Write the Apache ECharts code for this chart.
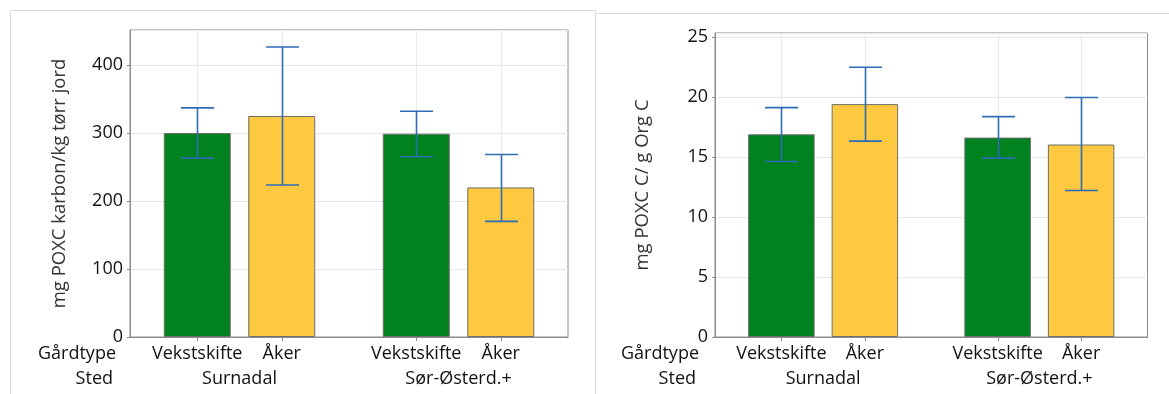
<!DOCTYPE html>
<html>
<head>
<meta charset="utf-8">
<script src="https://cdn.jsdelivr.net/npm/echarts@6/dist/echarts.min.js"></script>
<style>
html,body{margin:0;padding:0;background:#fff;}
#c{width:1169px;height:394px;}
</style>
</head>
<body>
<div id="c"></div>
<script>
// ---- data ----
const sted = ['Surnadal', 'Sør-Østerd.+'];
const gardtype = ['Vekstskifte', 'Åker'];
// left chart: mg POXC karbon / kg tørr jord
const poxcVekst = [300, 299];
const poxcVekstLow = [263, 265];
const poxcVekstHigh = [337, 332];
const poxcAker = [325, 220];
const poxcAkerLow = [223.5, 170];
const poxcAkerHigh = [426.5, 268.5];
// right chart: mg POXC C / g Org C
const orgVekst = [16.9, 16.63];
const orgVekstLow = [14.63, 14.92];
const orgVekstHigh = [19.13, 18.38];
const orgAker = [19.42, 16.05];
const orgAkerLow = [16.33, 12.22];
const orgAkerHigh = [22.5, 19.97];
const leftTicks = {min: 0, max: 451.5, interval: 100};
const rightTicks = {min: 0, max: 25.35, interval: 5};

// ---- style ----
const FONT = 'Open Sans';
const GREEN = '#00821f';
const YELLOW = '#fcc941';
const FRAME = '#8c8c8c';
const GRIDC = '#e8e8e8';
const ERRC = '#2f6bb6';
const TXT = '#111';
const BAR_W = [67, 66.5];
const GAP = [17.5, 17];

const chart = echarts.init(document.getElementById('c'));

function errSeries(gi, low, high, sign) {
  const off = sign * (BAR_W[gi] + GAP[gi]) / 2;
  return {
    type: 'custom', xAxisIndex: gi, yAxisIndex: gi, z: 5, silent: true,
    data: low.map((l, i) => [i, l, high[i]]),
    encode: {x: 0, y: [1, 2]},
    renderItem: function (params, api) {
      const pl = api.coord([api.value(0), api.value(1)]);
      const ph = api.coord([api.value(0), api.value(2)]);
      const x = Math.round(pl[0] + off) + 0.5;
      const hw = 16.5;
      const st = {stroke: ERRC, lineWidth: 1.6, fill: 'none'};
      return {type: 'group', children: [
        {type: 'line', shape: {x1: x, y1: pl[1], x2: x, y2: ph[1]}, style: st},
        {type: 'line', shape: {x1: x - hw, y1: pl[1], x2: x + hw, y2: pl[1]}, style: st},
        {type: 'line', shape: {x1: x - hw, y1: ph[1], x2: x + hw, y2: ph[1]}, style: st}
      ]};
    }
  };
}

function gridLineSeries(gi) {
  const data = [];
  sted.forEach((s, i) => gardtype.forEach((g, j) => data.push([i, j, 0])));
  const off = (BAR_W[gi] + GAP[gi]) / 2;
  return {
    type: 'custom', xAxisIndex: gi, yAxisIndex: gi, z: 1, silent: true,
    data: data, encode: {x: 0, y: 2},
    renderItem: function (params, api) {
      const cs = params.coordSys;
      const p = api.coord([api.value(0), 0]);
      const x = Math.round(p[0] + (api.value(1) === 0 ? -off : off)) + 0.5;
      return {type: 'group', children: [
        {type: 'line', shape: {x1: x, y1: cs.y, x2: x, y2: cs.y + cs.height}, style: {stroke: GRIDC, lineWidth: 1}},
        {type: 'line', shape: {x1: x, y1: cs.y + cs.height, x2: x, y2: cs.y + cs.height + 4}, style: {stroke: FRAME, lineWidth: 1}}
      ]};
    }
  };
}

function barSeries(gi, name, vals, color) {
  return {
    type: 'bar', name: name, xAxisIndex: gi, yAxisIndex: gi, z: 2,
    data: vals, barWidth: BAR_W[gi], barGap: (GAP[gi] / BAR_W[gi] * 100) + '%',
    itemStyle: {color: color, borderColor: '#6e6e6e', borderWidth: 1},
    label: {show: true, position: 'bottom', distance: 8, formatter: name,
      fontFamily: FONT, fontSize: 18, lineHeight: 18, color: TXT}
  };
}

function xAxis(gi) {
  return {
    type: 'category', gridIndex: gi, data: sted,
    axisLine: {lineStyle: {color: FRAME}}, axisTick: {show: false},
    axisLabel: {margin: 33, fontFamily: FONT, fontSize: 18, lineHeight: 18, color: TXT},
    splitLine: {show: false}
  };
}

function yAxis(gi, t, name, gap) {
  return {
    type: 'value', gridIndex: gi, min: t.min, max: t.max, interval: t.interval,
    name: name, nameLocation: 'middle', nameGap: gap,
    nameTextStyle: {fontFamily: FONT, fontSize: 18.5, color: '#333'},
    axisLine: {show: true, lineStyle: {color: FRAME}},
    axisTick: {show: true, length: 3, lineStyle: {color: FRAME}},
    axisLabel: {margin: 7, fontFamily: FONT, fontSize: 18, color: TXT, showMaxLabel: false},
    splitLine: {lineStyle: {color: GRIDC}}
  };
}

function rowText(x, y, t) {
  return {type: 'text', x: x, y: y, silent: true,
    style: {text: t, fontFamily: FONT, fontSize: 18, fill: TXT,
      align: 'right', verticalAlign: 'middle', textAlign: 'right', textVerticalAlign: 'middle'}};
}

chart.setOption({
  animation: false,
  grid: [
    {left: 130, top: 30, width: 438, height: 307, show: true, borderColor: FRAME, borderWidth: 1, backgroundColor: 'transparent'},
    {left: 715, top: 33, width: 432.5, height: 304, show: true, borderColor: FRAME, borderWidth: 1, backgroundColor: 'transparent'}
  ],
  xAxis: [xAxis(0), xAxis(1)],
  yAxis: [
    yAxis(0, leftTicks, 'mg POXC karbon/kg tørr jord', 61),
    yAxis(1, rightTicks, 'mg POXC C/ g Org C', 63)
  ],
  graphic: [
    {type: 'rect', silent: true, shape: {x: 10.5, y: 10.5, width: 585, height: 420}, style: {fill: 'none', stroke: '#dcdcdc', lineWidth: 1}},
    {type: 'line', silent: true, shape: {x1: 596, y1: 13.5, x2: 1169, y2: 13.5}, style: {stroke: '#dcdcdc', lineWidth: 1}},
    rowText(116, 354, 'Gårdtype'),
    rowText(113, 379, 'Sted'),
    rowText(699, 354, 'Gårdtype'),
    rowText(696, 379, 'Sted')
  ],
  series: [
    gridLineSeries(0),
    barSeries(0, gardtype[0], poxcVekst, GREEN),
    barSeries(0, gardtype[1], poxcAker, YELLOW),
    errSeries(0, poxcVekstLow, poxcVekstHigh, -1),
    errSeries(0, poxcAkerLow, poxcAkerHigh, 1),
    gridLineSeries(1),
    barSeries(1, gardtype[0], orgVekst, GREEN),
    barSeries(1, gardtype[1], orgAker, YELLOW),
    errSeries(1, orgVekstLow, orgVekstHigh, -1),
    errSeries(1, orgAkerLow, orgAkerHigh, 1)
  ]
});
</script>
</body>
</html>
